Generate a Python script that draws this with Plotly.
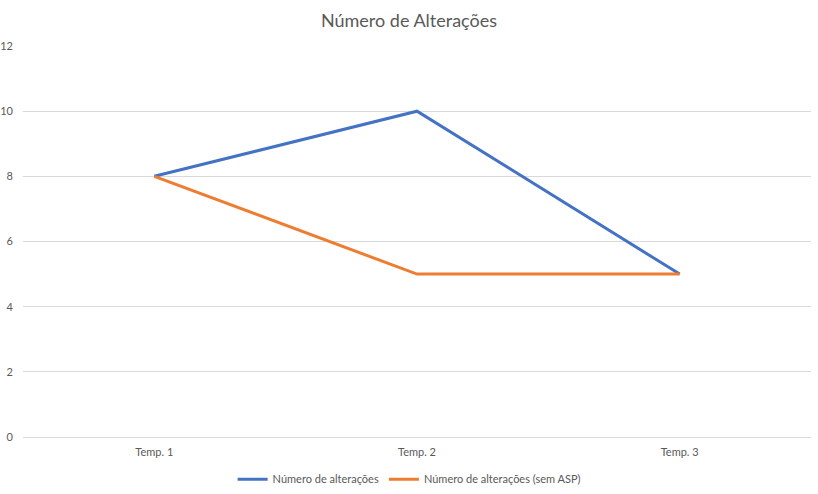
import plotly.graph_objects as go

categories = ["Temp. 1", "Temp. 2", "Temp. 3"]
alteracoes = [8, 10, 5]
alteracoes_sem_asp = [8, 5, 5]

fig = go.Figure()
fig.add_trace(go.Scatter(x=categories, y=alteracoes, mode="lines",
                         name="Número de alterações",
                         line=dict(color="#4472C4", width=3)))
fig.add_trace(go.Scatter(x=categories, y=alteracoes_sem_asp, mode="lines",
                         name="Número de alterações (sem ASP)",
                         line=dict(color="#ED7D31", width=3)))

fig.update_layout(
    width=818, height=494,
    margin=dict(l=23, r=7, t=46, b=57),
    paper_bgcolor="white", plot_bgcolor="white",
    font=dict(family="Lato, Carlito, Liberation Sans, sans-serif", color="#595959", size=11),
    title=dict(text="Número de Alterações", x=0.5, xanchor="center",
               yref="container", y=0.958, yanchor="middle", automargin=False,
               font=dict(size=18, color="#595959")),
    xaxis=dict(type="category", range=[-0.5, 2.5], showgrid=False, showline=False,
               ticks="", automargin=False, ticklabelstandoff=7,
               tickfont=dict(size=11, color="#595959"), fixedrange=True),
    yaxis=dict(range=[0, 12], dtick=2, showgrid=True, gridcolor="#D9D9D9", gridwidth=1,
               zeroline=True, zerolinecolor="#D9D9D9", zerolinewidth=1,
               showline=False, ticks="", ticklabelstandoff=9, automargin=False,
               tickfont=dict(size=11, color="#595959"), fixedrange=True),
    legend=dict(orientation="h", x=0.49, xanchor="center",
                yref="container", y=0.030, yanchor="middle",
                font=dict(size=11, color="#595959"), itemwidth=30),
    showlegend=True,
)

fig.write_html("out.html", config={"displayModeBar": False},
               post_script="document.body.style.margin='0';")
